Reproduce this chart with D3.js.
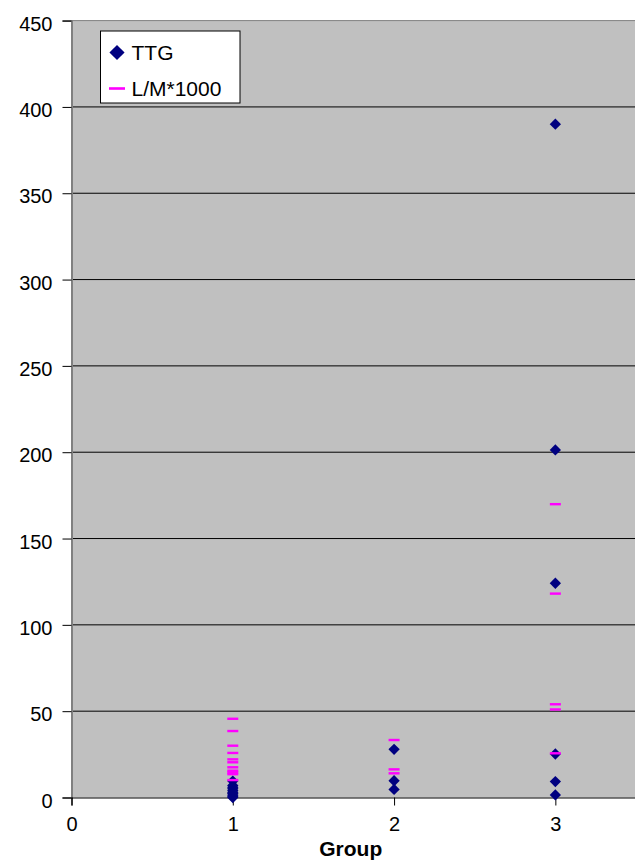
<!DOCTYPE html>
<html>
<head>
<meta charset="utf-8">
<script src="https://cdn.jsdelivr.net/npm/d3@7"></script>
<style>
html,body{margin:0;padding:0;background:#fff;}
svg{display:block;font-family:"Liberation Sans",Arial,sans-serif;}
</style>
</head>
<body>
<svg id="chart" width="635" height="868"></svg>
<script>
// ---- data ----
const xTicks = [0, 1, 2, 3];
const yTicks = [0, 50, 100, 150, 200, 250, 300, 350, 400, 450];
const xTitle = "Group";
const seriesNames = ["TTG", "L/M*1000"];

const ttgGroup = [1,1,1,1,1,1,1,1,1,1,1, 2,2,2, 3,3,3,3,3,3];
const ttgValue = [9.5,7,6,5,4,3,2.5,2,1,0.5,0, 27.9,9.7,4.7, 390,201.3,124.1,25.2,9.2,1.5];

const lmGroup = [1,1,1,1,1,1,1,1,1,1,1, 2,2,2, 3,3,3,3,3];
const lmValue = [45.6,38.5,30,25.8,22.1,20.4,17.5,15.5,14.5,13.5,10.1, 33.3,16.3,14, 169.9,118.1,54,51,25.6];

// ---- layout ----
const svg = d3.select("#chart");
const pLeft = 71.5, pRight = 636, pTop = 20.6, pBottom = 797.5;
const x = d3.scaleLinear().domain([0, 3.5]).range([pLeft, pRight]);
const y = d3.scaleLinear().domain([0, 450]).range([pBottom, pTop]);

// plot background
svg.append("rect").attr("x", pLeft).attr("y", pTop)
  .attr("width", pRight - pLeft).attr("height", pBottom - pTop)
  .attr("fill", "#c0c0c0");

// gridlines
svg.append("g").selectAll("line").data(yTicks.filter(d => d > 0 && d < 450)).join("line")
  .attr("x1", pLeft).attr("x2", pRight)
  .attr("y1", d => y(d)).attr("y2", d => y(d))
  .attr("stroke", "#000").attr("stroke-width", 1);
svg.append("line").attr("x1", pLeft).attr("x2", pRight)
  .attr("y1", y(450)).attr("y2", y(450)).attr("stroke", "#808080").attr("stroke-width", 1);

// y axis
const yAxis = d3.axisLeft(y).tickValues(yTicks).tickSize(9).tickPadding(10).tickFormat(d3.format("d"));
const gy = svg.append("g").attr("transform", `translate(${pLeft},0)`).call(yAxis);
gy.select(".domain").attr("stroke", "#808080").attr("stroke-width", 2);
gy.selectAll(".tick line").attr("stroke", "#000");
gy.selectAll(".tick text").attr("font-size", 20).attr("fill", "#000")
  .attr("font-family", "'Liberation Sans', Arial, sans-serif").attr("dy", "0.48em");

// x axis
const xAxis = d3.axisBottom(x).tickValues(xTicks).tickSize(8).tickPadding(11).tickFormat(d3.format("d"));
const gx = svg.append("g").attr("transform", `translate(0,${pBottom})`).call(xAxis);
gx.select(".domain").attr("stroke", "#000").attr("stroke-width", 1.2);
gx.selectAll(".tick line").attr("stroke", "#000");
gx.selectAll(".tick text").attr("font-size", 20).attr("fill", "#000")
  .attr("font-family", "'Liberation Sans', Arial, sans-serif");

// x title
svg.append("text").attr("x", (pLeft + pRight) / 2 - 3).attr("y", 856)
  .attr("text-anchor", "middle").attr("font-size", 21).attr("font-weight", "bold")
  .text(xTitle);

// diamonds (TTG)
const diamond = d3.symbol().type(d3.symbolSquare).size(64);
svg.append("g").selectAll("path").data(ttgValue.map((v, i) => [ttgGroup[i], v])).join("path")
  .attr("d", diamond)
  .attr("transform", d => `translate(${x(d[0])},${y(d[1])}) rotate(45)`)
  .attr("fill", "#000080");

// dashes (L/M*1000)
svg.append("g").selectAll("rect").data(lmValue.map((v, i) => [lmGroup[i], v])).join("rect")
  .attr("x", d => x(d[0]) - 5.5).attr("y", d => y(d[1]) - 1.2)
  .attr("width", 11).attr("height", 2.4)
  .attr("fill", "#ff00ff");

// legend
const lg = svg.append("g");
lg.append("rect").attr("x", 100.5).attr("y", 31).attr("width", 139.5).attr("height", 72)
  .attr("fill", "#fff").attr("stroke", "#000").attr("stroke-width", 1);
lg.append("path").attr("d", d3.symbol().type(d3.symbolSquare).size(115))
  .attr("transform", "translate(117,52.5) rotate(45)").attr("fill", "#000080");
lg.append("rect").attr("x", 109).attr("y", 87.2).attr("width", 16).attr("height", 2.6).attr("fill", "#ff00ff");
lg.append("text").attr("x", 131.5).attr("y", 59.5).attr("font-size", 21).text(seriesNames[0]);
lg.append("text").attr("x", 131.5).attr("y", 95.5).attr("font-size", 21).text(seriesNames[1]);
</script>
</body>
</html>
